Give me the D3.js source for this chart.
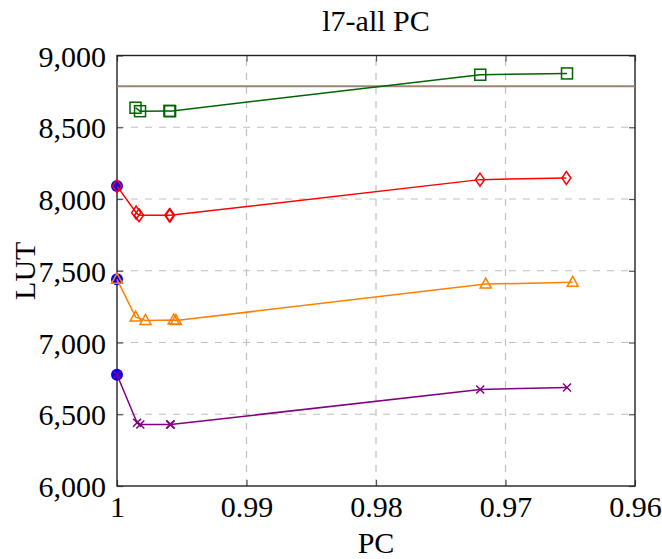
<!DOCTYPE html>
<html>
<head>
<meta charset="utf-8">
<script src="https://cdn.jsdelivr.net/npm/d3@7"></script>
<style>
html,body{margin:0;padding:0;background:#fff;}
text{font-family:"Liberation Serif","DejaVu Serif",serif;fill:#000;}
</style>
</head>
<body>
<svg id="chart" width="662" height="559"></svg>
<script>
// ---- data ----
const titleText = "l7-all PC";
const xLabel = "PC";
const yLabel = "LUT";
const xTicks = [1, 0.99, 0.98, 0.97, 0.96];
const yTicks = [6000, 6500, 7000, 7500, 8000, 8500, 9000];

const greenPC  = [0.99857, 0.99822, 0.99595, 0.99590, 0.97195, 0.96525];
const greenLUT = [8636, 8612, 8614, 8612, 8866, 8875];

const redPC  = [1, 0.99852, 0.99830, 0.99596, 0.99590, 0.97197, 0.96530];
const redLUT = [8090, 7905, 7887, 7887, 7886, 8135, 8146];

const orangePC  = [1, 0.99856, 0.99780, 0.99562, 0.99545, 0.97153, 0.96481];
const orangeLUT = [7440, 7177, 7154, 7156, 7153, 7407, 7419];

const purplePC  = [1, 0.99845, 0.99820, 0.99590, 0.99585, 0.97195, 0.96525];
const purpleLUT = [6775, 6441, 6428, 6428, 6428, 6673, 6687];

const baselinePC  = [1, 1, 1];
const baselineLUT = [8090, 7440, 6775];

const thresholdLUT = 8786;

(function () {
// ---- layout ----
const svg = d3.select("#chart");
const L = 117, R = 635, T = 55.5, B = 486;
const FS = 30;
const x = d3.scaleLinear().domain([1, 0.96]).range([L, R]);
const y = d3.scaleLinear().domain([6000, 9000]).range([B, T]);
const fmt = d3.format(",");

// grid
const grid = svg.append("g").attr("stroke", "#c0c0c0").attr("stroke-width", 1.2)
  .attr("stroke-dasharray", "7,7").attr("fill", "none");
xTicks.filter(v => v !== 1 && v !== 0.96).forEach(v => {
  grid.append("line").attr("x1", x(v)).attr("x2", x(v)).attr("y1", B).attr("y2", T);
});
yTicks.filter(v => v !== 6000 && v !== 9000).forEach(v => {
  grid.append("line").attr("x1", L).attr("x2", R).attr("y1", y(v)).attr("y2", y(v));
});

// axes via d3 axes (inner ticks)
const ax = svg.append("g").attr("font-size", FS);
const gBottom = ax.append("g").attr("transform", `translate(0,${B})`)
  .call(d3.axisBottom(x).tickValues(xTicks).tickSize(-6).tickPadding(10).tickFormat(d => d3.format("")(d)));
const gTop = ax.append("g").attr("transform", `translate(0,${T})`)
  .call(d3.axisTop(x).tickValues(xTicks).tickSize(-6).tickFormat(""));
const gLeft = ax.append("g").attr("transform", `translate(${L},0)`)
  .call(d3.axisLeft(y).tickValues(yTicks).tickSize(-6).tickPadding(11).tickFormat(fmt));
const gRight = ax.append("g").attr("transform", `translate(${R},0)`)
  .call(d3.axisRight(y).tickValues(yTicks).tickSize(-6).tickFormat(""));
[gBottom, gTop, gLeft, gRight].forEach(g => {
  g.select(".domain").remove();
  g.selectAll(".tick line").attr("stroke", "#555").attr("stroke-width", 1.2);
  g.selectAll("text").attr("font-family", "Liberation Serif, DejaVu Serif, serif").attr("font-size", FS).attr("fill", "#000");
});
gBottom.selectAll("text").attr("dy", "0.71em");
gLeft.selectAll("text").attr("dy", "0.35em");

// frame
svg.append("rect").attr("x", L).attr("y", T).attr("width", R - L).attr("height", B - T)
  .attr("fill", "none").attr("stroke", "#222").attr("stroke-width", 1.4);

// threshold line
svg.append("line").attr("x1", L).attr("x2", R).attr("y1", y(thresholdLUT)).attr("y2", y(thresholdLUT))
  .attr("stroke", "#9a8676").attr("stroke-width", 2);

// baseline blue circles
svg.append("g").selectAll("circle").data(d3.range(baselinePC.length)).join("circle")
  .attr("cx", i => x(baselinePC[i])).attr("cy", i => y(baselineLUT[i])).attr("r", 6)
  .attr("fill", "#0000ff");

const line = d3.line().x(d => x(d[0])).y(d => y(d[1]));
function series(pc, lut, color, marker) {
  const pts = pc.map((p, i) => [p, lut[i]]);
  const g = svg.append("g");
  g.append("path").attr("d", line(pts)).attr("fill", "none").attr("stroke", color).attr("stroke-width", 1.5);
  pts.forEach(p => {
    const cx = x(p[0]), cy = y(p[1]);
    if (marker === "square") {
      g.append("rect").attr("x", cx - 5.5).attr("y", cy - 5.5).attr("width", 11).attr("height", 11)
        .attr("fill", "none").attr("stroke", color).attr("stroke-width", 1.5);
    } else if (marker === "diamond") {
      g.append("path").attr("d", `M${cx},${cy - 6.5}L${cx + 4.5},${cy}L${cx},${cy + 6.5}L${cx - 4.5},${cy}Z`)
        .attr("fill", "none").attr("stroke", color).attr("stroke-width", 1.5);
    } else if (marker === "triangle") {
      g.append("path").attr("d", `M${cx},${cy - 6}L${cx + 5.5},${cy + 4}L${cx - 5.5},${cy + 4}Z`)
        .attr("fill", "none").attr("stroke", color).attr("stroke-width", 1.5);
    } else if (marker === "cross") {
      g.append("path").attr("d", `M${cx - 4},${cy - 4}L${cx + 4},${cy + 4}M${cx - 4},${cy + 4}L${cx + 4},${cy - 4}`)
        .attr("fill", "none").attr("stroke", color).attr("stroke-width", 1.5);
    }
  });
}
series(greenPC, greenLUT, "#006400", "square");
series(redPC, redLUT, "#ff0000", "diamond");
series(orangePC, orangeLUT, "#ff8000", "triangle");
series(purplePC, purpleLUT, "#800080", "cross");

// texts
svg.append("text").attr("x", (L + R) / 2).attr("y", 31).attr("text-anchor", "middle")
  .attr("font-size", FS).text(titleText);
svg.append("text").attr("x", (L + R) / 2).attr("y", 553).attr("text-anchor", "middle")
  .attr("font-size", FS).text(xLabel);
svg.append("text").attr("transform", `translate(35,${(T + B) / 2}) rotate(-90)`).attr("text-anchor", "middle")
  .attr("font-size", FS).text(yLabel);
})();
</script>
</body>
</html>
